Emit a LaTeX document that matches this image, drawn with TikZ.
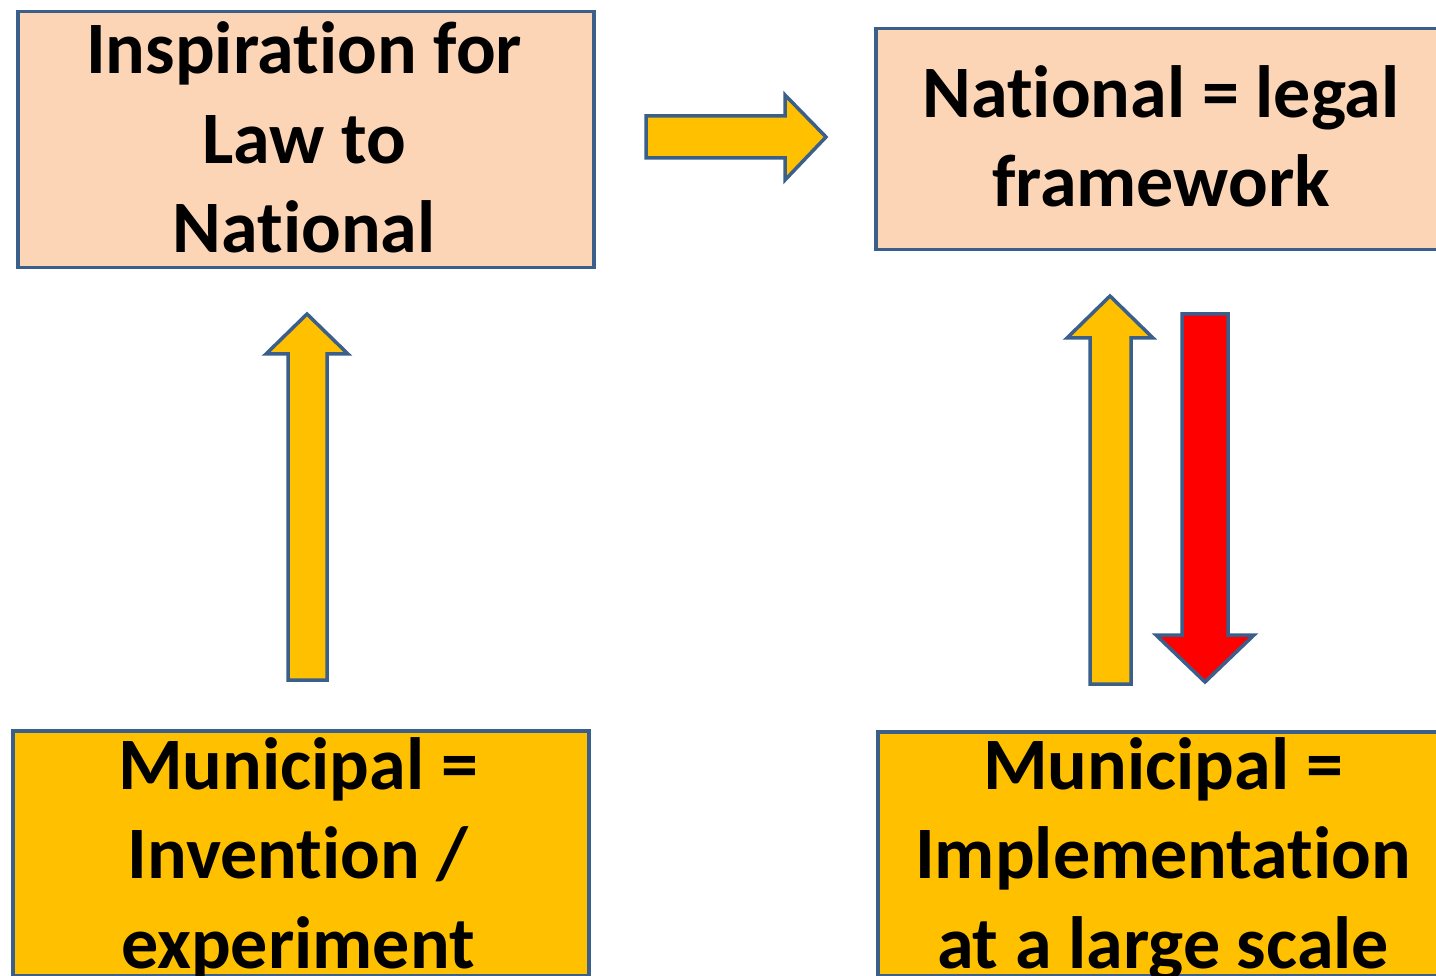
\documentclass[tikz,border=0pt]{standalone}
\usepackage{fontspec}
\setmainfont[Ligatures=NoCommon]{Carlito}
\definecolor{edge}{RGB}{58,95,139}
\definecolor{peach}{RGB}{251,213,181}
\definecolor{gold}{RGB}{255,192,0}
\definecolor{redfill}{RGB}{255,0,0}
\tikzset{
  box/.style={draw=edge, line width=3.5pt, inner sep=0pt, anchor=north west},
  peachbox/.style={box, fill=peach},
  goldbox/.style={box, fill=gold},
  label/.style={anchor=base, align=center, inner sep=0pt, font=\fontsize{74}{89.5}\selectfont\bfseries},
  blockarrow/.style={draw=edge, line width=3.5pt, line join=miter},
}
\begin{document}
\begin{tikzpicture}[x=1pt,y=-1pt]
\useasboundingbox (0,0) rectangle (1436,976);
\clip (0,0) rectangle (1436,976);
% boxes
\node[peachbox, minimum width=576pt, minimum height=256pt] (inspire) at (16,10) {};
\node[peachbox, minimum width=600pt, minimum height=221pt] (legal) at (874,27) {};
\node[goldbox, minimum width=576pt, minimum height=245pt] (invent) at (11,729) {};
\node[goldbox, minimum width=600pt, minimum height=244pt] (implement) at (876,730) {};
% texts (base anchor = baseline of last line)
\node[label] (t1) at (304,253) {Inspiration for\\Law to\\National};
\node[label] (t2) at (1161,207) {National = legal\\framework};
\node[label] (t3) at (298,968) {Municipal =\\Invention /\\experiment};
\node[label] (t4) at (1163,968) {Municipal =\\Implementation\\at a large scale};
% right arrow
\draw[blockarrow, fill=gold] (646,116) -- (785,116) -- (785,95) -- (826,137) -- (785,180) -- (785,158) -- (646,158) -- cycle;
% left up arrow
\draw[blockarrow, fill=gold] (288,680) -- (288,354) -- (266,354) -- (307,314) -- (348,354) -- (327,354) -- (327,680) -- cycle;
% right up arrow
\draw[blockarrow, fill=gold] (1090,684) -- (1090,338) -- (1067,338) -- (1110,296) -- (1153,338) -- (1131,338) -- (1131,684) -- cycle;
% red down arrow
\draw[blockarrow, fill=redfill] (1182,314) -- (1228,314) -- (1228,635) -- (1254,635) -- (1205,682) -- (1156,635) -- (1182,635) -- cycle;
\end{tikzpicture}
\end{document}
